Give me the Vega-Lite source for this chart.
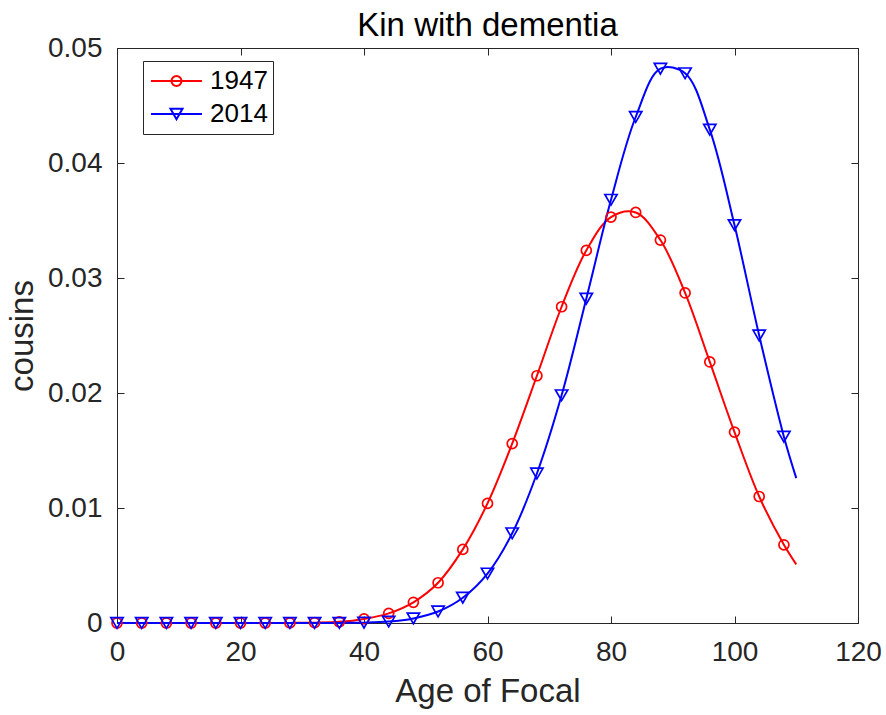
{
  "$schema": "https://vega.github.io/schema/vega-lite/v6.json",
  "width": 741,
  "height": 575,
  "autosize": {"type": "none"},
  "padding": {"left": 117, "top": 48, "right": 28, "bottom": 92},
  "background": "white",
  "config": {
    "view": {"stroke": null},
    "font": "Liberation Sans",
    "axis": {
      "grid": false,
      "domainColor": "#262626",
      "domainWidth": 1,
      "tickColor": "#262626",
      "tickWidth": 1,
      "tickSize": -7,
      "labelFlush": false,
      "labelColor": "#262626",
      "labelFont": "Liberation Sans",
      "labelFontSize": 28,
      "titleColor": "#262626",
      "titleFont": "Liberation Sans",
      "titleFontSize": 33,
      "titleFontWeight": "normal"
    },
    "legend": {
      "title": null,
      "orient": "none",
      "legendX": 26,
      "legendY": 13,
      "strokeColor": "#262626",
      "fillColor": "white",
      "padding": 5,
      "clipHeight": 30,
      "symbolOffset": 2,
      "symbolSize": 2601,
      "symbolStrokeWidth": 2,
      "symbolOpacity": 1,
      "symbolFillColor": "transparent",
      "labelFont": "Liberation Sans",
      "labelFontSize": 26,
      "labelColor": "#000000",
      "labelOffset": 7,
      "rowPadding": 3
    }
  },
  "title": {
    "text": "Kin with dementia",
    "font": "Liberation Sans",
    "fontSize": 33,
    "fontWeight": "normal",
    "color": "#000000",
    "anchor": "middle",
    "baseline": "bottom",
    "offset": 4,
    "dy": 46
  },
  "data": {
    "values": [
      {"year": "1947", "age": 0, "value": 0},
      {"year": "1947", "age": 4, "value": 0},
      {"year": "1947", "age": 8, "value": 0},
      {"year": "1947", "age": 12, "value": 0},
      {"year": "1947", "age": 16, "value": 0},
      {"year": "1947", "age": 20, "value": 0},
      {"year": "1947", "age": 24, "value": 0},
      {"year": "1947", "age": 28, "value": 0.00001},
      {"year": "1947", "age": 32, "value": 0.00003},
      {"year": "1947", "age": 36, "value": 0.0001},
      {"year": "1947", "age": 40, "value": 0.00035},
      {"year": "1947", "age": 44, "value": 0.00084},
      {"year": "1947", "age": 48, "value": 0.0018},
      {"year": "1947", "age": 52, "value": 0.0035},
      {"year": "1947", "age": 56, "value": 0.0064},
      {"year": "1947", "age": 60, "value": 0.0104},
      {"year": "1947", "age": 64, "value": 0.0156},
      {"year": "1947", "age": 68, "value": 0.0215},
      {"year": "1947", "age": 72, "value": 0.0275},
      {"year": "1947", "age": 76, "value": 0.0324},
      {"year": "1947", "age": 80, "value": 0.0353},
      {"year": "1947", "age": 84, "value": 0.0357},
      {"year": "1947", "age": 88, "value": 0.0333},
      {"year": "1947", "age": 92, "value": 0.0287},
      {"year": "1947", "age": 96, "value": 0.0227},
      {"year": "1947", "age": 100, "value": 0.0166},
      {"year": "1947", "age": 104, "value": 0.011},
      {"year": "1947", "age": 108, "value": 0.0068},
      {"year": "1947", "age": 110, "value": 0.0051},
      {"year": "2014", "age": 0, "value": 0},
      {"year": "2014", "age": 4, "value": 0},
      {"year": "2014", "age": 8, "value": 0},
      {"year": "2014", "age": 12, "value": 0},
      {"year": "2014", "age": 16, "value": 0},
      {"year": "2014", "age": 20, "value": 0},
      {"year": "2014", "age": 24, "value": 0},
      {"year": "2014", "age": 28, "value": 0},
      {"year": "2014", "age": 32, "value": 0},
      {"year": "2014", "age": 36, "value": 0.00001},
      {"year": "2014", "age": 40, "value": 0.00003},
      {"year": "2014", "age": 44, "value": 0.00012},
      {"year": "2014", "age": 48, "value": 0.0004},
      {"year": "2014", "age": 52, "value": 0.001},
      {"year": "2014", "age": 56, "value": 0.0022},
      {"year": "2014", "age": 60, "value": 0.0043},
      {"year": "2014", "age": 64, "value": 0.0078},
      {"year": "2014", "age": 68, "value": 0.013},
      {"year": "2014", "age": 72, "value": 0.0198},
      {"year": "2014", "age": 76, "value": 0.0282},
      {"year": "2014", "age": 80, "value": 0.0368},
      {"year": "2014", "age": 84, "value": 0.044},
      {"year": "2014", "age": 88, "value": 0.0482},
      {"year": "2014", "age": 92, "value": 0.0478},
      {"year": "2014", "age": 96, "value": 0.0429},
      {"year": "2014", "age": 100, "value": 0.0346},
      {"year": "2014", "age": 104, "value": 0.025},
      {"year": "2014", "age": 108, "value": 0.0162},
      {"year": "2014", "age": 110, "value": 0.0126}
    ]
  },
  "layer": [
    {
      "transform": [{"filter": "false"}],
      "mark": {"type": "point", "filled": false, "strokeWidth": 2, "opacity": 1},
      "encoding": {
        "x": {
          "field": "age",
          "type": "quantitative",
          "scale": {"domain": [0, 120], "nice": false, "zero": false},
          "axis": {"orient": "top", "values": [0, 20, 40, 60, 80, 100, 120], "labels": false, "title": null}
        },
        "y": {
          "field": "value",
          "type": "quantitative",
          "scale": {"domain": [0, 0.05], "nice": false},
          "axis": {"orient": "right", "values": [0, 0.01, 0.02, 0.03, 0.04, 0.05], "labels": false, "title": null}
        },
        "color": {
          "field": "year",
          "type": "nominal",
          "scale": {"domain": ["1947", "2014"], "range": ["#ff0000", "#0000ff"]}
        },
        "shape": {
          "field": "year",
          "type": "nominal",
          "scale": {
            "domain": ["1947", "2014"],
            "range": [
              "M-1,0H1M0.196,0A0.196,0.196,0,1,1,-0.196,0A0.196,0.196,0,1,1,0.196,0Z",
              "M-1,0H1M0,0.204L-0.235,-0.204L0.235,-0.204Z"
            ]
          }
        }
      }
    },
    {
      "mark": {"type": "line", "interpolate": "catmull-rom", "strokeWidth": 2},
      "encoding": {
        "x": {
          "field": "age",
          "type": "quantitative",
          "scale": {"domain": [0, 120], "nice": false, "zero": false},
          "axis": {
            "orient": "bottom",
            "values": [0, 20, 40, 60, 80, 100, 120],
            "labelPadding": 22,
            "title": "Age of Focal",
            "titlePadding": 9
          }
        },
        "y": {
          "field": "value",
          "type": "quantitative",
          "scale": {"domain": [0, 0.05], "nice": false},
          "axis": {
            "orient": "left",
            "values": [0, 0.01, 0.02, 0.03, 0.04, 0.05],
            "format": "~g",
            "labelPadding": 22,
            "title": "cousins",
            "titlePadding": 8
          }
        },
        "color": {"field": "year", "type": "nominal"}
      }
    },
    {
      "transform": [{"filter": "datum.age <= 108 && datum.year === '1947'"}],
      "mark": {"type": "point", "shape": "circle", "filled": false, "strokeWidth": 1.7, "size": 100, "color": "#ff0000", "opacity": 1},
      "encoding": {
        "x": {"field": "age", "type": "quantitative", "axis": null},
        "y": {"field": "value", "type": "quantitative", "axis": null}
      }
    },
    {
      "transform": [{"filter": "datum.age <= 108 && datum.year === '2014'"}],
      "mark": {"type": "point", "shape": "triangle-down", "filled": false, "strokeWidth": 1.7, "size": 150, "color": "#0000ff", "opacity": 1},
      "encoding": {
        "x": {"field": "age", "type": "quantitative", "axis": null},
        "y": {"field": "value", "type": "quantitative", "axis": null}
      }
    }
  ],
  "resolve": {"axis": {"x": "independent", "y": "independent"}}
}
